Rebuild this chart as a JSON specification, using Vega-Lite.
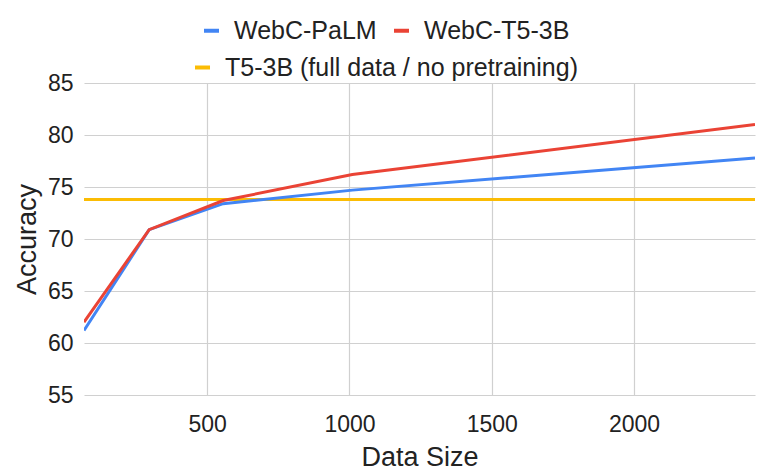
{
  "$schema": "https://vega.github.io/schema/vega-lite/v6.json",
  "autosize": "none",
  "width": 671,
  "height": 312,
  "padding": {"left": 84, "top": 83, "right": 6, "bottom": 76},
  "background": "white",
  "data": {
    "values": [
      {"series": "T5-3B (full data / no pretraining)", "size": 67, "acc": 73.8},
      {"series": "T5-3B (full data / no pretraining)", "size": 2425, "acc": 73.8},
      {"series": "WebC-PaLM", "size": 67, "acc": 61.2},
      {"series": "WebC-PaLM", "size": 296, "acc": 70.9},
      {"series": "WebC-PaLM", "size": 556, "acc": 73.4},
      {"series": "WebC-PaLM", "size": 1010, "acc": 74.7},
      {"series": "WebC-PaLM", "size": 2425, "acc": 77.8},
      {"series": "WebC-T5-3B", "size": 67, "acc": 62.0},
      {"series": "WebC-T5-3B", "size": 296, "acc": 70.9},
      {"series": "WebC-T5-3B", "size": 556, "acc": 73.7},
      {"series": "WebC-T5-3B", "size": 1010, "acc": 76.2},
      {"series": "WebC-T5-3B", "size": 2425, "acc": 81.0}
    ]
  },
  "encoding": {
    "x": {
      "field": "size",
      "type": "quantitative",
      "title": "Data Size",
      "scale": {"domain": [67, 2425], "nice": false, "zero": false},
      "axis": {"values": [500, 1000, 1500, 2000], "format": "d", "labelPadding": 18, "titlePadding": 8}
    },
    "y": {
      "field": "acc",
      "type": "quantitative",
      "title": "Accuracy",
      "scale": {"domain": [55, 85], "nice": false, "zero": false},
      "axis": {"values": [55, 60, 65, 70, 75, 80, 85], "labelPadding": 11, "titlePadding": 6}
    }
  },
  "layer": [
    {
      "transform": [{"filter": "datum.series === 'T5-3B (full data / no pretraining)'"}],
      "mark": {"type": "line", "strokeWidth": 3, "clip": true},
      "encoding": {
        "color": {
          "field": "series",
          "type": "nominal",
          "scale": {"domain": ["T5-3B (full data / no pretraining)"], "range": ["#FBBC04"]},
          "legend": {
            "title": null,
            "orient": "none",
            "legendX": 106,
            "legendY": -28,
            "direction": "horizontal",
            "symbolType": "stroke",
            "symbolSize": 225,
            "symbolStrokeWidth": 4,
            "labelFontSize": 25,
            "labelFont": "Liberation Sans",
            "labelColor": "#222222",
            "labelLimit": 0,
            "labelOffset": 10,
            "padding": 0
          }
        }
      }
    },
    {
      "transform": [{"filter": "datum.series !== 'T5-3B (full data / no pretraining)'"}],
      "mark": {"type": "line", "strokeWidth": 3, "clip": true},
      "encoding": {
        "color": {
          "field": "series",
          "type": "nominal",
          "scale": {"domain": ["WebC-PaLM", "WebC-T5-3B"], "range": ["#4285F4", "#EA4335"]},
          "legend": {
            "title": null,
            "orient": "none",
            "legendX": 115,
            "legendY": -65,
            "direction": "horizontal",
            "symbolType": "stroke",
            "symbolSize": 225,
            "symbolStrokeWidth": 4,
            "labelFontSize": 25,
            "labelFont": "Liberation Sans",
            "labelColor": "#222222",
            "labelLimit": 0,
            "labelOffset": 10,
            "columnPadding": 9,
            "padding": 0
          }
        }
      }
    }
  ],
  "resolve": {"scale": {"color": "independent"}},
  "config": {
    "view": {"stroke": null},
    "axis": {
      "domain": false,
      "ticks": false,
      "grid": true,
      "gridColor": "#d0d0d0",
      "gridWidth": 1.2,
      "labelFont": "Liberation Sans",
      "labelFontSize": 23,
      "labelColor": "#222222",
      "titleFont": "Liberation Sans",
      "titleFontSize": 27,
      "titleFontWeight": "normal",
      "titleColor": "#222222"
    }
  }
}
